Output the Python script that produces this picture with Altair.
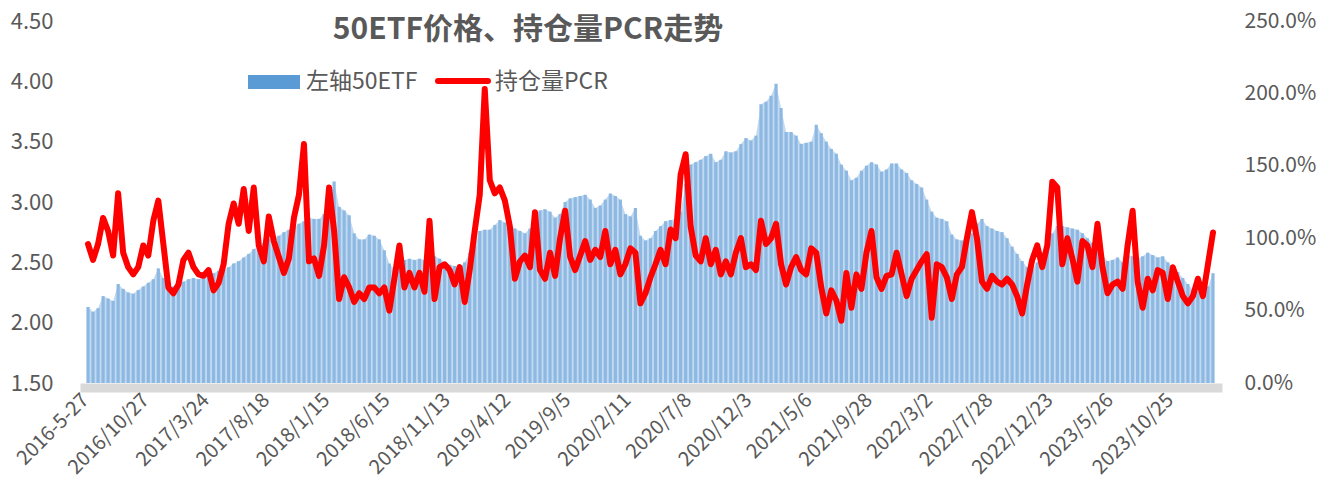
import altair as alt
import pandas as pd

# x-axis category labels (one every 12 sample points)
tick_labels = ["2016-5-27", "2016/10/27", "2017/3/24", "2017/8/18", "2018/1/15",
               "2018/6/15", "2018/11/13", "2019/4/12", "2019/9/5", "2020/2/11",
               "2020/7/8", "2020/12/3", "2021/5/6", "2021/9/28", "2022/3/2",
               "2022/7/28", "2022/12/23", "2023/5/26", "2023/10/25"]
label_step = 12

# 50ETF price (left axis)
etf = [2.13, 2.09, 2.12, 2.22, 2.20, 2.18, 2.32, 2.28, 2.25, 2.24,
       2.27, 2.30, 2.33, 2.36, 2.45, 2.37, 2.30, 2.30, 2.32, 2.34,
       2.36, 2.37, 2.36, 2.38, 2.40, 2.41, 2.43, 2.44, 2.46, 2.49,
       2.51, 2.54, 2.57, 2.61, 2.63, 2.66, 2.69, 2.70, 2.72, 2.75,
       2.77, 2.79, 2.82, 2.84, 2.87, 2.86, 2.86, 2.90, 2.94, 3.17,
       2.96, 2.93, 2.89, 2.74, 2.69, 2.69, 2.73, 2.72, 2.69, 2.60,
       2.49, 2.44, 2.48, 2.52, 2.53, 2.52, 2.53, 2.52, 2.54, 2.55,
       2.53, 2.50, 2.48, 2.47, 2.46, 2.50, 2.58, 2.64, 2.76, 2.77,
       2.77, 2.81, 2.85, 2.83, 2.80, 2.78, 2.76, 2.74, 2.78, 2.88,
       2.93, 2.94, 2.92, 2.87, 2.90, 3.00, 3.03, 3.04, 3.05, 3.06,
       3.02, 2.95, 2.97, 3.02, 3.07, 3.05, 3.02, 2.90, 2.88, 2.95,
       2.72, 2.68, 2.70, 2.76, 2.80, 2.84, 2.85, 2.86, 2.92, 3.15,
       3.31, 3.33, 3.35, 3.38, 3.40, 3.33, 3.35, 3.42, 3.41, 3.42,
       3.48, 3.53, 3.51, 3.55, 3.81, 3.83, 3.88, 3.98, 3.78, 3.58,
       3.58, 3.55, 3.48, 3.49, 3.50, 3.64, 3.57, 3.50, 3.44, 3.40,
       3.31, 3.26, 3.18, 3.20, 3.26, 3.30, 3.33, 3.31, 3.25, 3.27,
       3.32, 3.32, 3.27, 3.24, 3.18, 3.15, 3.12, 3.02, 2.92, 2.87,
       2.86, 2.84, 2.73, 2.69, 2.68, 2.71, 2.74, 2.82, 2.86, 2.80,
       2.78, 2.76, 2.75, 2.70, 2.63, 2.57, 2.51, 2.46, 2.44, 2.50,
       2.58, 2.66, 2.74, 2.80, 2.80, 2.79, 2.78, 2.77, 2.74, 2.70,
       2.66, 2.62, 2.56, 2.51, 2.52, 2.54, 2.50, 2.56, 2.55, 2.53,
       2.55, 2.58, 2.56, 2.54, 2.55, 2.50, 2.46, 2.42, 2.37, 2.32,
       2.27, 2.26, 2.24, 2.30, 2.41]

# open-interest PCR in percent (right axis)
pcr = [96, 85, 96, 114, 105, 88, 131, 90, 80, 75,
       80, 95, 88, 112, 126, 96, 66, 62, 68, 85,
       90, 80, 75, 74, 78, 64, 69, 82, 110, 124,
       110, 134, 105, 135, 95, 84, 115, 98, 87, 76,
       86, 114, 130, 165, 84, 86, 74, 95, 135, 105,
       58, 73, 66, 56, 62, 58, 66, 66, 62, 66,
       50, 72, 95, 66, 76, 66, 76, 63, 112, 58,
       80, 82, 78, 68, 80, 56, 78, 105, 130, 203,
       140, 131, 135, 126, 108, 72, 84, 88, 80, 118,
       78, 72, 90, 74, 100, 119, 87, 78, 88, 98,
       85, 92, 87, 105, 82, 92, 75, 82, 93, 90,
       55, 62, 73, 82, 92, 82, 106, 100, 144, 158,
       108, 88, 84, 100, 82, 92, 75, 84, 75, 90,
       100, 80, 82, 78, 112, 96, 100, 110, 82, 68,
       80, 87, 78, 75, 93, 90, 66, 48, 64, 57,
       43, 76, 52, 75, 65, 90, 105, 73, 65, 74,
       75, 90, 75, 60, 72, 78, 84, 89, 45, 82,
       80, 73, 58, 75, 80, 100, 118, 100, 70, 65,
       74, 70, 68, 72, 68, 60, 48, 68, 85, 95,
       80, 95, 139, 135, 82, 100, 86, 70, 98, 95,
       80, 110, 80, 62, 68, 70, 65, 95, 119, 70,
       52, 72, 64, 78, 76, 58, 80, 70, 60, 55,
       60, 72, 60, 82, 104]

df = pd.DataFrame({"i": list(range(len(etf))), "etf": etf,
                   "pcr": [p / 100 for p in pcr]})

FONT = "Noto Sans CJK SC, Open Sans, sans-serif"
GREY = "#595959"

label_js = "[" + ",".join("'" + t + "'" for t in tick_labels) + "]"
x_axis = alt.Axis(values=[k * label_step for k in range(len(tick_labels))],
                  labelExpr=label_js + "[round(datum.value/" + str(label_step) + ")]",
                  labelAngle=-45, labelAlign="right", labelBaseline="top",
                  labelFontSize=20, labelColor=GREY, labelFont=FONT,
                  labelPadding=2, labelOffset=-10, ticks=False, tickSize=0,
                  grid=False, domainColor="#D9D9D9", domainWidth=9, offset=4.5,
                  title=None, labelOverlap=False, labelBound=False)
xs = alt.Scale(domain=[-0.6, len(etf) - 0.2], nice=False, zero=False)
ys = alt.Scale(domain=[1.5, 4.5], nice=False, zero=False)

left_axis = alt.Axis(values=[1.5, 2.0, 2.5, 3.0, 3.5, 4.0, 4.5], format=".2f",
                     labelFontSize=22, labelColor=GREY, labelFont=FONT,
                     labelPadding=27, ticks=False, domain=False, grid=False,
                     title=None)
right_axis = alt.Axis(values=[0, 0.5, 1.0, 1.5, 2.0, 2.5], format=".1%",
                      orient="right", labelFontSize=21, labelColor=GREY,
                      labelFont=FONT, labelPadding=22, ticks=False,
                      domain=False, grid=False, title=None)

base = alt.Chart(df).encode(x=alt.X("i:Q", scale=xs, axis=x_axis))

fill = base.mark_area(color="#C2DAF1").encode(
    y=alt.Y("etf:Q", scale=ys, axis=left_axis), y2=alt.datum(1.5))
bars = base.mark_bar(size=3.2, color="#8DB8E2").encode(
    y=alt.Y("etf:Q", scale=ys, axis=left_axis), y2=alt.datum(1.5))
left = alt.layer(fill, bars)

line = base.mark_line(color="#FF0000", strokeWidth=6, strokeJoin="round",
                      strokeCap="round").encode(
    y=alt.Y("pcr:Q", scale=alt.Scale(domain=[0, 2.5], nice=False, zero=False),
            axis=right_axis))

one = pd.DataFrame({"k": [0]})
title = alt.Chart(one).mark_text(text="50ETF价格、持仓量PCR走势", font=FONT,
                                 fontSize=30, fontWeight="bold", color=GREY,
                                 align="center", baseline="middle").encode(
    x=alt.value(448), y=alt.value(9))
leg_box = alt.Chart(one).mark_rect(color="#5B9BD5").encode(
    x=alt.value(168), x2=alt.value(220), y=alt.value(54), y2=alt.value(68))
leg_t1 = alt.Chart(one).mark_text(text="左轴50ETF", font=FONT, fontSize=23,
                                  color=GREY, align="left",
                                  baseline="middle").encode(
    x=alt.value(226), y=alt.value(61))
leg_line = alt.Chart(one).mark_rule(color="#FF0000", strokeWidth=6,
                                    strokeCap="round").encode(
    x=alt.value(358), x2=alt.value(408), y=alt.value(60))
leg_t2 = alt.Chart(one).mark_text(text="持仓量PCR", font=FONT, fontSize=23,
                                  color=GREY, align="left",
                                  baseline="middle").encode(
    x=alt.value(415), y=alt.value(61))

chart = alt.layer(left, line, title, leg_box, leg_t1, leg_line, leg_t2).resolve_scale(
    y="independent"
).properties(
    width=1142, height=362,
    autosize=alt.AutoSizeParams(type="none"),
    padding={"left": 72, "top": 13, "right": 95, "bottom": 100},
    background="white",
).configure_view(stroke=None)

chart.save("out.html", embed_options={"renderer": "svg", "actions": False})
